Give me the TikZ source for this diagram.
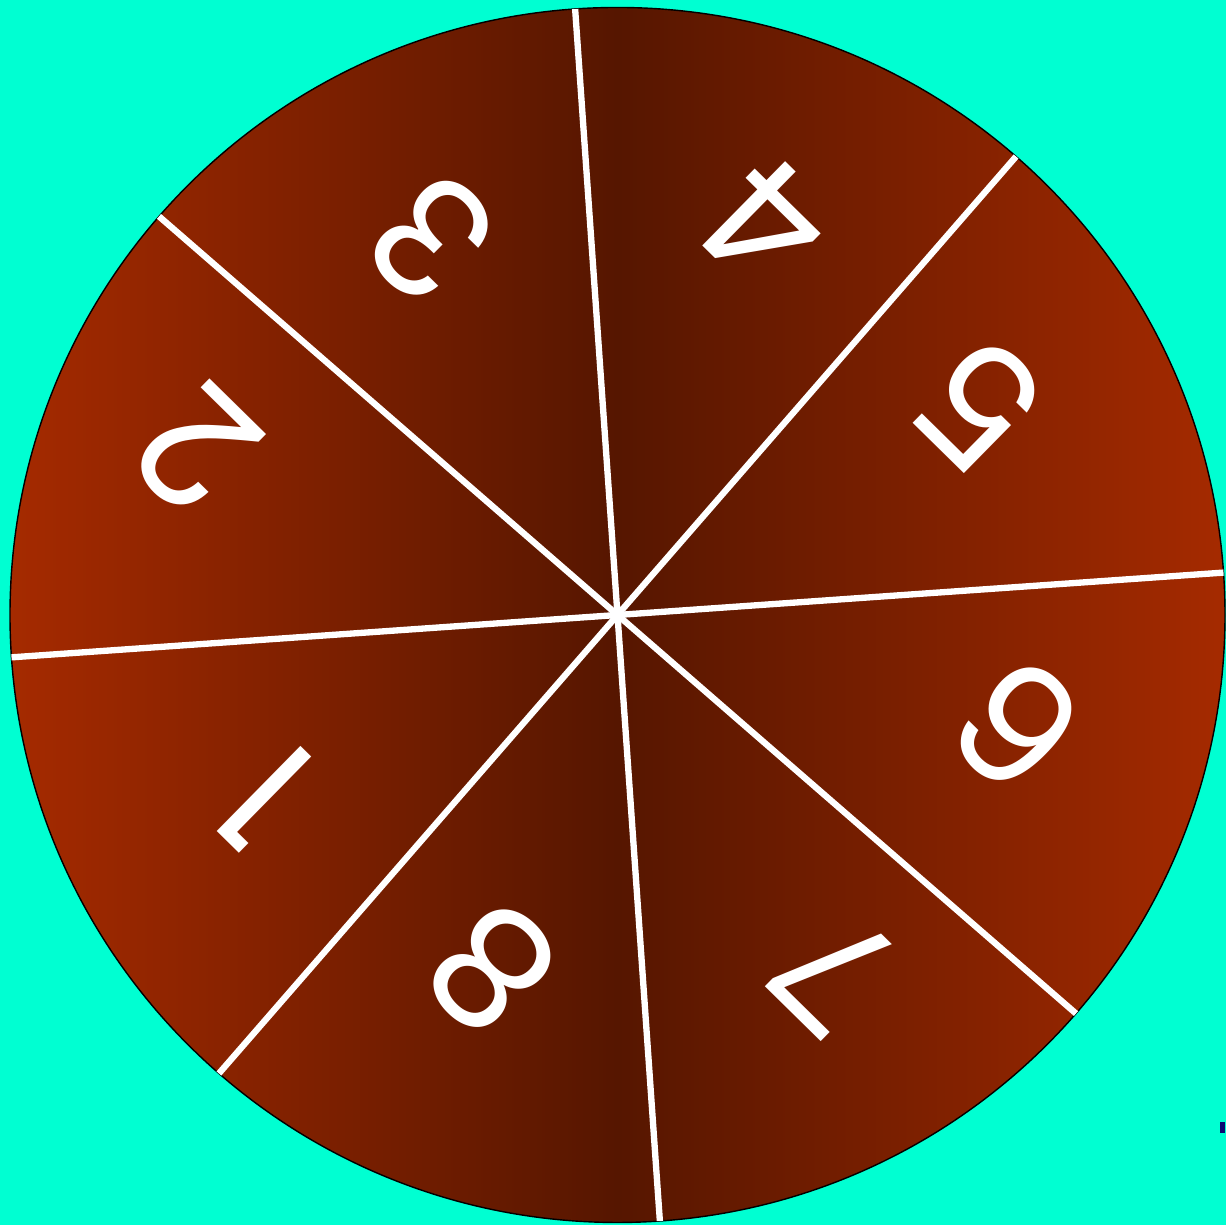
\documentclass[tikz,border=0pt]{standalone}
\usepackage{fontspec}
\setmainfont{Poppins}
\usepackage{xcolor}
\usetikzlibrary{shapes.geometric, positioning, calc}

\definecolor{bgaqua}{HTML}{00FFD2}
\definecolor{rimred}{HTML}{A52A00}
\definecolor{hubbrown}{HTML}{561600}
\definecolor{markblue}{HTML}{0B0B72}

\begin{document}
\begin{tikzpicture}[
    wheel/.style={circle, draw=black, line width=0.4pt, outer sep=0pt, inner sep=0pt, minimum size=12.15cm, left color=rimred, right color=rimred, middle color=hubbrown, shading angle=90},
    spoke/.style={draw=white, line width=1.8pt},
    digit/.style={text=white, inner sep=0pt, font=\fontsize{47}{47}\selectfont, rotate=135.5},
  ]
    % background and frame
    \fill[bgaqua] (0,0) rectangle (12.26,12.25);
    \useasboundingbox (0,0) rectangle (12.26,12.25);

    \node[wheel] (w) at (6.175, 6.10) {};

    % spokes through the hub
    \draw[spoke] (w.4) -- (w.184);
    \draw[spoke] (w.49) -- (w.229);
    \draw[spoke] (w.94) -- (w.274);
    \draw[spoke] (w.139) -- (w.319);

    % sector numbers
    \node[digit] (n1) at ($(w.center)+(207.4:3.95)$) {1};
    \node[digit] (n2) at ($(w.center)+(158.5:4.52)$) {2};
    \node[digit] (n3) at ($(w.center)+(116.3:4.20)$) {3};
    \node[digit] (n4) at ($(w.center)+(69.2:4.17)$) {4};
    \node[digit] (n5) at ($(w.center)+(30.2:4.19)$) {5};
    \node[digit] (n6) at ($(w.center)+(-15.5:4.15)$) {6};
    \node[digit] (n7) at ($(w.center)+(-58.6:4.17)$) {7};
    \node[digit] (n8) at ($(w.center)+(-109.5:3.76)$) {8};

    % stray mark at the right edge
    \node[fill=markblue, inner sep=0pt, minimum width=0.05cm, minimum height=0.11cm, anchor=east] (mark) at (12.26, 0.975) {};
  \end{tikzpicture}
\end{document}
